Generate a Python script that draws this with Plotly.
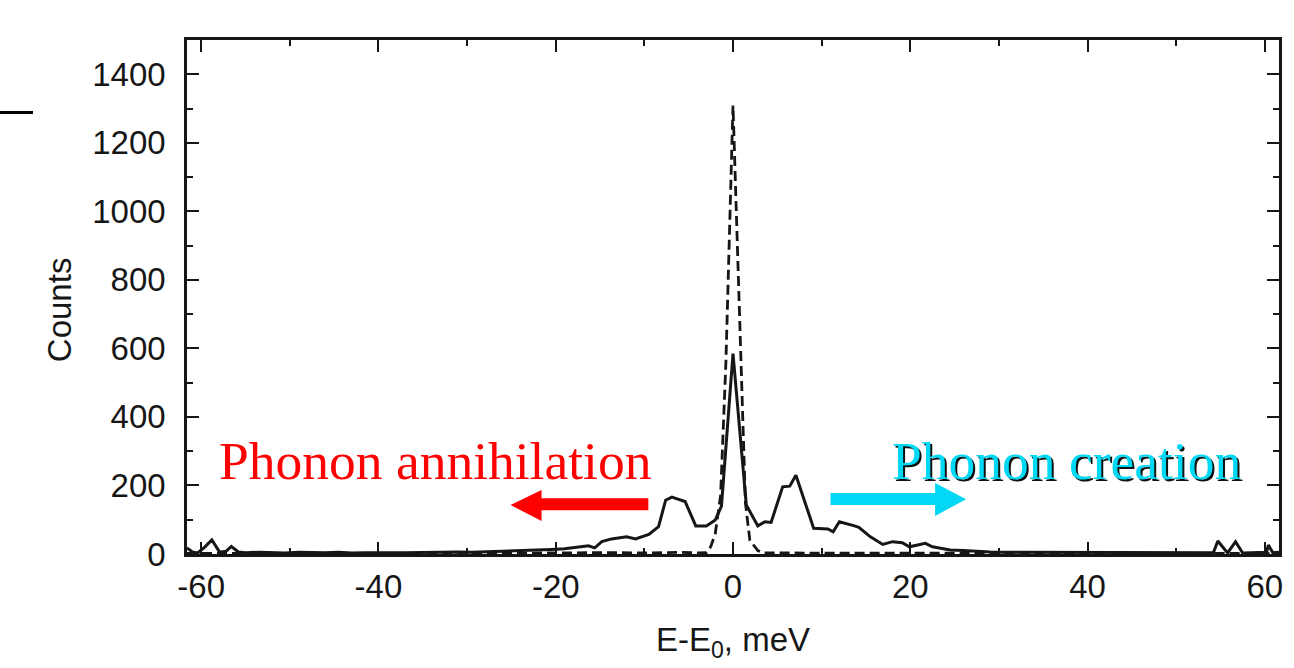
import plotly.graph_objects as go

# ---- data ----
solid_e = [-61.6, -61.0, -60.4, -59.6, -58.8, -57.9, -57.2, -56.6, -55.8, -55.0,
           -53.5, -52.0, -50.5, -49.0, -47.5, -46.0, -44.5, -43.0, -41.5, -40.0,
           -38.5, -37.0, -35.5, -34.0, -32.5, -31.0, -29.5, -28.0, -26.5, -25.0,
           -23.5, -22.0, -20.5, -19.0, -18.0, -17.2, -16.3, -15.6, -14.8, -13.7,
           -12.6, -12.0, -11.0, -10.2, -9.5, -8.4, -7.6, -6.9, -5.4, -4.2,
           -3.0, -2.0, -1.3, 0.0, 1.5, 2.8, 3.6, 4.3, 5.6, 6.4,
           7.1, 9.1, 10.7, 11.3, 12.0, 13.7, 14.2, 15.5, 16.9, 18.0,
           19.1, 19.9, 20.8, 21.7, 22.5, 23.4, 24.5, 26.0, 27.5, 29.0,
           30.5, 32.0, 33.5, 35.0, 36.5, 38.0, 39.5, 41.0, 42.5, 44.0,
           45.5, 47.0, 48.5, 50.0, 51.5, 53.0, 54.2, 54.7, 55.8, 56.7,
           57.5, 58.5, 59.5, 60.2, 60.4, 60.9, 61.6]
solid_counts = [18, 6, 3, 20, 41, 5, 8, 22, 6, 4,
                5, 4, 3, 5, 4, 4, 5, 3, 4, 5,
                4, 4, 5, 4, 5, 6, 5, 6, 7, 8,
                9, 11, 13, 15, 19, 22, 24, 18, 36, 44,
                47, 50, 44, 50, 57, 80, 157, 166, 153, 82,
                82, 99, 140, 585, 143, 82, 94, 92, 196, 198,
                230, 75, 73, 65, 94, 82, 78, 50, 28, 36,
                33, 21, 26, 31, 21, 17, 12, 10, 7, 6,
                5, 5, 4, 5, 4, 4, 5, 4, 4, 5,
                4, 4, 5, 4, 4, 4, 4, 38, 3, 36,
                3, 4, 4, 5, 26, 4, 5]

dash_e = [-61.6, -58, -54, -50, -46, -42, -38, -34, -30, -26,
          -22, -18, -14, -10, -6, -4, -3.0, -2.5, -2.0, -1.4,
          -0.8, 0.0, 0.8, 1.4, 1.9, 2.8, 3.4, 5, 8, 12,
          16, 20, 24, 28, 32, 36, 40, 44, 48, 52,
          56, 61.6]
dash_counts = [2, 1, 2, 1, 2, 1, 2, 1, 2, 3,
               2, 3, 4, 3, 5, 3, 4, 22, 60, 170,
               560, 1309, 620, 150, 40, 10, 3, 3, 4, 3,
               4, 3, 3, 2, 2, 1, 2, 1, 2, 1,
               2, 1]

x_ticks = [-60, -40, -20, 0, 20, 40, 60]
x_tick_labels = ["-60", "-40", "-20", "0", "20", "40", "60"]
y_ticks = [0, 200, 400, 600, 800, 1000, 1200, 1400]
y_tick_labels = ["0", "200", "400", "600", "800", "1000", "1200", "1400"]

assert len(solid_e) == len(solid_counts)
assert len(dash_e) == len(dash_counts)

INK = "#161616"
SANS = "Liberation Sans, Arial, sans-serif"
SERIF = "Liberation Serif, Times New Roman, serif"

fig = go.Figure()
fig.add_trace(go.Scatter(x=dash_e, y=dash_counts, mode="lines",
                         line=dict(color=INK, width=2.8, dash="10px,5px"),
                         showlegend=False, hoverinfo="skip"))
fig.add_trace(go.Scatter(x=solid_e, y=solid_counts, mode="lines",
                         line=dict(color=INK, width=3),
                         showlegend=False, hoverinfo="skip"))

axis_common = dict(
    showgrid=False, zeroline=False, showline=True, linecolor=INK, linewidth=2.5,
    mirror="allticks", ticks="inside", ticklen=12, tickwidth=2, tickcolor=INK,
    tickfont=dict(family=SANS, size=33, color=INK),
)
fig.update_xaxes(range=[-61.6, 61.6], tickvals=x_ticks, ticktext=x_tick_labels,
                 minor=dict(dtick=10, ticks="inside", ticklen=6, tickwidth=2, tickcolor=INK),
                 ticklabelstandoff=2, **axis_common)
fig.update_yaxes(range=[0, 1500], tickvals=y_ticks, ticktext=y_tick_labels,
                 minor=dict(dtick=100, ticks="inside", ticklen=6, tickwidth=2, tickcolor=INK),
                 ticklabelstandoff=12, **axis_common)

annotations = [
    dict(text="Counts", xref="paper", yref="paper", x=-0.116, y=0.475,
         textangle=-90, showarrow=False, font=dict(family=SANS, size=33, color=INK),
         xanchor="center", yanchor="middle"),
    dict(text="E-E<sub>0</sub>, meV", xref="paper", yref="paper", x=0.5, y=-0.172,
         showarrow=False, font=dict(family=SANS, size=33, color=INK),
         xanchor="center", yanchor="middle"),
    dict(text="Phonon annihilation", xref="x", yref="y", x=-33.6, y=272,
         showarrow=False, font=dict(family=SERIF, size=53.5, color="#ff0000"),
         xanchor="center", yanchor="middle"),
    dict(text="Phonon creation", xref="x", yref="y", x=37.8, y=267,
         showarrow=False, font=dict(family=SERIF, size=53.5, color="#111111"),
         xanchor="center", yanchor="middle"),
    dict(text="Phonon creation", xref="x", yref="y", x=37.65, y=272,
         showarrow=False, font=dict(family=SERIF, size=53.5, color="#00d8f5"),
         xanchor="center", yanchor="middle"),
]
fig.update_layout(annotations=annotations)

# arrows (annotation graphics)
red_arrow = "M -9.55 163 L -21.6 163 L -21.6 187 L -25.1 143 L -21.6 96 L -21.6 128 L -9.55 128 Z"
cyan_arrow = "M 11.0 178 L 22.8 178 L 22.8 207 L 26.3 160 L 22.8 111 L 22.8 143 L 11.0 143 Z"
fig.add_shape(type="path", path=red_arrow, xref="x", yref="y",
              fillcolor="#ff0000", line=dict(width=0))
fig.add_shape(type="path", path=cyan_arrow, xref="x", yref="y",
              fillcolor="#00d8f5", line=dict(width=0))
# small black stroke at top-left edge (pixel-sized, anchored in paper coords)
fig.add_shape(type="rect", xref="paper", yref="paper",
              xsizemode="pixel", ysizemode="pixel",
              xanchor=0.0, yanchor=1.0,
              x0=-187, x1=-154, y0=-74, y1=-71,
              fillcolor="#000000", line=dict(width=0), layer="above")

fig.update_layout(
    width=1294, height=668, autosize=False,
    margin=dict(l=187, r=11, t=40, b=114),
    paper_bgcolor="white", plot_bgcolor="white",
)

fig.write_html("out.html")
